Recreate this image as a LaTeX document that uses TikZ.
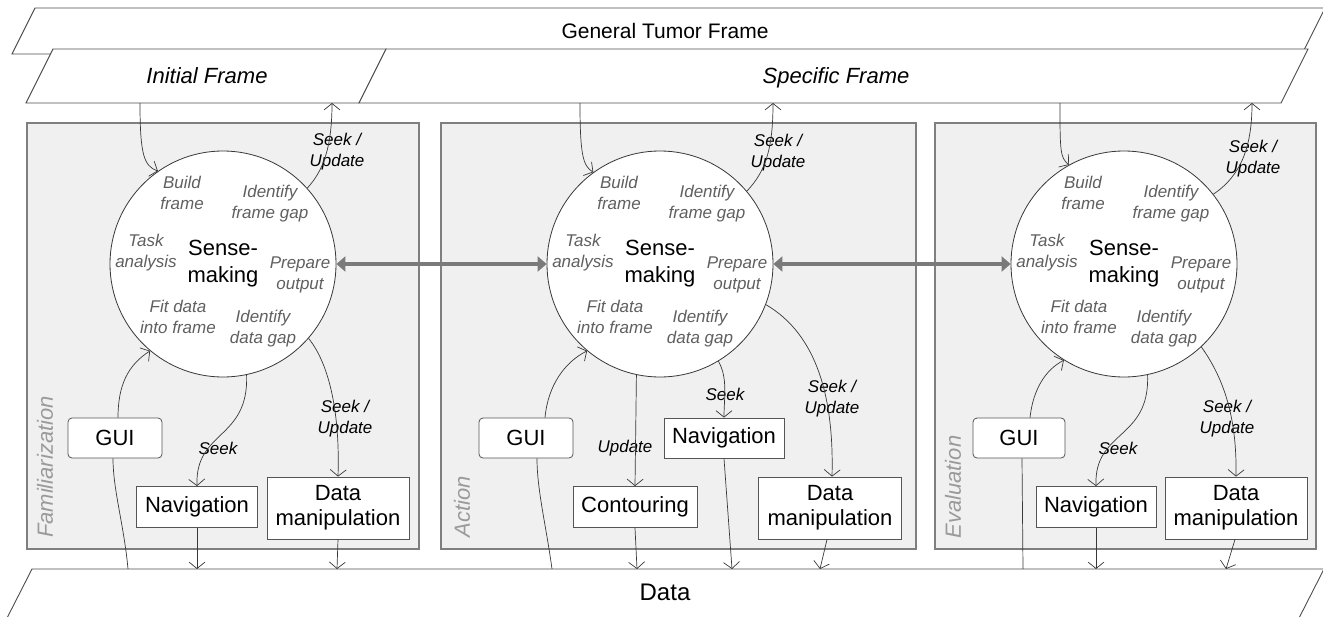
\documentclass[tikz,border=0pt]{standalone}
\usepackage{fontspec}
\setmainfont{Liberation Sans}
\usetikzlibrary{arrows.meta}
\definecolor{pbord}{HTML}{7F7F7F}
\definecolor{pfill}{HTML}{F0F0F0}
\definecolor{fbord}{HTML}{4D4D4D}
\definecolor{ln}{HTML}{383838}
\definecolor{bbord}{HTML}{555555}
\definecolor{subgray}{HTML}{606060}
\definecolor{phgray}{HTML}{9A9A9A}
\definecolor{thk}{HTML}{7A7A7A}
\begin{document}
\begin{tikzpicture}[x=1pt,y=-1pt,
  panel/.style={draw=pbord,fill=pfill,line width=1.3pt},
  frm/.style={draw=fbord,fill=white,line width=0.9pt},
  circ/.style={circle,draw=ln,fill=white,line width=0.8pt,minimum size=226pt,inner sep=0pt},
  boxn/.style={draw=bbord,fill=white,line width=0.8pt,font=\fontsize{22}{25}\selectfont,align=center,inner sep=0pt},
  sub/.style={text=subgray,font=\fontsize{17}{21}\selectfont\itshape,align=center,inner sep=0pt},
  lab/.style={text=black,font=\fontsize{17}{21}\selectfont\itshape,align=center,inner sep=0pt},
  phase/.style={text=phgray,font=\fontsize{22}{26}\selectfont\itshape,rotate=90,inner sep=0pt},
  conn/.style={draw=ln,line width=0.7pt,-{Straight Barb[length=6.5pt,width=16pt]}},
  plainln/.style={draw=ln,line width=0.7pt},
  bigarrow/.style={draw=thk,line width=4pt,{Triangle[length=9pt,width=15pt]}-{Triangle[length=9pt,width=15pt]}},
]
\useasboundingbox (0,0) rectangle (1323,616);
\clip (0,0) rectangle (1323,616);

% frames
\path[frm] (35,8) -- (1325,8) -- (1302,54) -- (12,54) -- cycle;
\node[font=\fontsize{21}{25}\selectfont,anchor=base] (gtf) at (665,38) {General Tumor Frame};
\path[frm] (53,49) -- (386,49) -- (359,103) -- (26,103) -- cycle;
\node[font=\fontsize{22}{26}\selectfont\itshape,anchor=base] (inf) at (207,83) {Initial Frame};
\path[frm] (386,49) -- (1308,49) -- (1281,103) -- (359,103) -- cycle;
\node[font=\fontsize{22}{26}\selectfont\itshape,anchor=base] (spf) at (836,83) {Specific Frame};

% panels
\path[panel] (27,123) rectangle (419,549);
\path[panel] (441,123) rectangle (916,549);
\path[panel] (935,123) rectangle (1316,549);

% data
\path[frm] (32,569) -- (1324,569) -- (1297,622) -- (5,622) -- cycle;
\node[font=\fontsize{24}{28}\selectfont] (data) at (665,592) {Data};

% circles
\node[circ] (c1) at (223,264) {};
\node[circ] (c2) at (660,264) {};
\node[circ] (c3) at (1124,264) {};
\foreach \i/\cx/\cy in {1/223/264,2/660/264,3/1124/264} {
  \node[font=\fontsize{22}{27}\selectfont,align=center,inner sep=0pt] (sm\i) at (\cx,\cy) {Sense-\\making};
  \node[sub] (bf\i) at (\cx-41,\cy-71) {Build\\frame};
  \node[sub] (ifg\i) at (\cx+47,\cy-60) {Identify\\frame gap};
  \node[sub] (ta\i) at (\cx-77,\cy-11) {Task\\analysis};
  \node[sub] (po\i) at (\cx+77,\cy+11) {Prepare\\output};
  \node[sub] (fd\i) at (\cx-45,\cy+53) {Fit data\\into frame};
  \node[sub] (idg\i) at (\cx+40,\cy+65) {Identify\\data gap};
}

% top labels
\node[lab] (tsu1) at (337,152) {Seek /\\Update};
\node[lab] (tsu2) at (778,153) {Seek /\\Update};
\node[lab] (tsu3) at (1253,159) {Seek /\\Update};

% phase labels
\node[phase] (fam) at (45,467) {Familiarization};
\node[phase] (act) at (462,507) {Action};
\node[phase] (eva) at (953,487) {Evaluation};

% boxes panel 1
\node[boxn,rounded corners=4pt,minimum width=94pt,minimum height=40pt] (gui1) at (115,438) {GUI};
\node[boxn,minimum width=121pt,minimum height=41pt] (nav1) at (197,507) {Navigation};
\node[boxn,minimum width=142pt,minimum height=62pt] (dm1) at (338,508) {Data\\manipulation};
% boxes panel 2
\node[boxn,rounded corners=4pt,minimum width=94pt,minimum height=40pt] (gui2) at (526,438) {GUI};
\node[boxn,minimum width=124pt,minimum height=41pt] (con2) at (635,507) {Contouring};
\node[boxn,minimum width=120pt,minimum height=40pt] (nav2) at (724,438) {Navigation};
\node[boxn,minimum width=143pt,minimum height=62pt] (dm2) at (830,508) {Data\\manipulation};
% boxes panel 3
\node[boxn,rounded corners=4pt,minimum width=92pt,minimum height=40pt] (gui3) at (1019,438) {GUI};
\node[boxn,minimum width=120pt,minimum height=41pt] (nav3) at (1096,507) {Navigation};
\node[boxn,minimum width=142pt,minimum height=62pt] (dm3) at (1236,508) {Data\\manipulation};

% connector labels
\node[lab] (sk1) at (218,448) {Seek};
\node[lab] (su1) at (345,419) {Seek /\\Update};
\node[lab] (up2) at (625,448) {Update};
\node[lab] (sk2) at (725,394) {Seek};
\node[lab] (su2) at (832,399) {Seek /\\Update};
\node[lab] (sk3) at (1118,448) {Seek};
\node[lab] (su3) at (1227,419) {Seek /\\Update};

% frame coordinates
\coordinate (i1) at (140,103);
\coordinate (o1) at (332,103);
\coordinate (i2) at (580,103);
\coordinate (o2) at (773,103);
\coordinate (i3) at (1060,103);
\coordinate (o3) at (1252,103);
% data coordinates
\coordinate (d1a) at (128,569);
\coordinate (d1b) at (197,569);
\coordinate (d1c) at (337,569);
\coordinate (d2a) at (552,569);
\coordinate (d2b) at (637,569);
\coordinate (d2c) at (732,569);
\coordinate (d2d) at (820,569);
\coordinate (d3a) at (1023,569);
\coordinate (d3b) at (1096,569);
\coordinate (d3c) at (1226,569);

% thick arrows
\draw[bigarrow] (c1.east) -- (c2.west);
\draw[bigarrow] (c2.east) -- (c3.west);

% panel 1 connectors
\draw[conn] (i1) .. controls (140,155) and (144,166) .. (c1.125);
\draw[conn] (c1.42) .. controls (322,172) and (332,150) .. (o1);
\draw[plainln] (d1a) .. controls (124,525) and (113,490) .. ([xshift=-2pt]gui1.south);
\draw[conn] ([xshift=3pt]gui1.north) .. controls (118,385) and (128,365) .. (c1.230);
\draw[conn] (c1.282) .. controls (249,440) and (195,430) .. (nav1.north);
\draw[conn] (c1.319) .. controls (330,365) and (340,415) .. (dm1.north);
\draw[conn] (nav1.south) -- (d1b);
\draw[conn] (dm1.south) -- (d1c);

% panel 2 connectors
\draw[conn] (i2) .. controls (580,155) and (583,166) .. (c2.126);
\draw[conn] (c2.40) .. controls (765,172) and (773,150) .. (o2);
\draw[plainln] (d2a) .. controls (546,525) and (537,490) .. ([xshift=11pt]gui2.south);
\draw[conn] ([xshift=19pt]gui2.north) .. controls (548,385) and (565,362) .. (c2.230);
\draw[conn] (c2.258) -- (con2.north);
\draw[conn] (c2.301) .. controls (728,378) and (724,398) .. (nav2.north);
\draw[conn] (c2.339) .. controls (818,335) and (834,400) .. ([xshift=2pt]dm2.north);
\draw[conn] (con2.south) -- (d2b);
\draw[conn] (nav2.south) -- (d2c);
\draw[conn] ([xshift=-3pt]dm2.south) -- (d2d);

% panel 3 connectors
\draw[conn] (i3) .. controls (1060,150) and (1060,158) .. (c3.119);
\draw[conn] (c3.38) .. controls (1242,175) and (1252,145) .. (o3);
\draw[plainln] (d3a) -- ([xshift=3pt]gui3.south);
\draw[conn] ([xshift=11pt]gui3.north) .. controls (1033,390) and (1045,370) .. (c3.238);
\draw[conn] (c3.282) .. controls (1150,440) and (1094,430) .. (nav3.north);
\draw[conn] (c3.313) .. controls (1225,380) and (1237,420) .. (dm3.north);
\draw[conn] (nav3.south) -- (d3b);
\draw[conn] ([xshift=-1pt]dm3.south) -- (d3c);
\end{tikzpicture}
\end{document}
